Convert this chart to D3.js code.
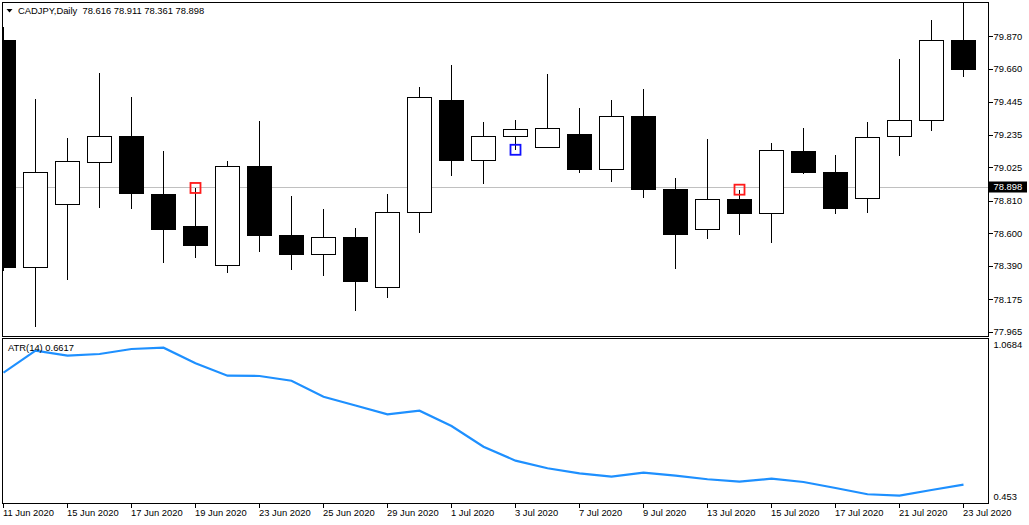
<!DOCTYPE html>
<html>
<head>
<meta charset="utf-8">
<script src="https://cdn.jsdelivr.net/npm/d3@7"></script>
<style>
  html, body { margin: 0; padding: 0; background: #fff; }
  svg { display: block; }
  text { font-family: "Liberation Sans", Arial, sans-serif; font-size: 9.4px; fill: #000; }
</style>
</head>
<body>
<svg id="chart" width="1029" height="525"></svg>
<script>
// ---- data ----
const dates = ["11 Jun 2020","12 Jun 2020","15 Jun 2020","16 Jun 2020","17 Jun 2020","18 Jun 2020","19 Jun 2020","22 Jun 2020","23 Jun 2020","24 Jun 2020","25 Jun 2020","26 Jun 2020","29 Jun 2020","30 Jun 2020","1 Jul 2020","2 Jul 2020","3 Jul 2020","6 Jul 2020","7 Jul 2020","8 Jul 2020","9 Jul 2020","10 Jul 2020","13 Jul 2020","14 Jul 2020","15 Jul 2020","16 Jul 2020","17 Jul 2020","20 Jul 2020","21 Jul 2020","22 Jul 2020","23 Jul 2020"];
const openP  = [79.844,78.383,78.788,79.058,79.225,78.855,78.643,78.396,79.035,78.585,78.467,78.576,78.255,78.737,79.459,79.071,79.225,79.155,79.238,79.013,79.356,78.887,78.628,78.821,78.731,79.129,78.994,78.827,79.225,79.328,79.842];
const highP  = [79.928,79.465,79.214,79.632,79.478,79.131,78.891,79.065,79.324,78.842,78.758,78.630,78.855,79.542,79.684,79.317,79.330,79.626,79.407,79.459,79.529,78.957,79.208,78.880,79.180,79.277,79.103,79.315,79.720,79.971,80.150];
const lowP   = [78.353,77.995,78.297,78.760,78.754,78.407,78.439,78.342,78.477,78.362,78.323,78.098,78.182,78.599,78.966,78.914,79.137,79.155,78.985,78.927,78.824,78.368,78.561,78.587,78.535,78.979,78.722,78.728,79.094,79.255,79.608];
const closeP = [78.379,78.994,79.065,79.225,78.857,78.625,78.522,79.033,78.587,78.464,78.576,78.291,78.737,79.476,79.069,79.225,79.270,79.277,79.011,79.354,78.882,78.593,78.821,78.728,79.135,78.991,78.760,79.219,79.328,79.842,79.660];
const atr14  = [0.9412,1.0242,1.0054,1.0118,1.0306,1.0356,0.9767,0.9299,0.9287,0.9110,0.8506,0.8174,0.7841,0.7977,0.7400,0.6617,0.6090,0.5803,0.5614,0.5486,0.5637,0.5524,0.5388,0.5297,0.5410,0.5286,0.5059,0.4822,0.4768,0.4984,0.5184];
const redHighMarks = ["19 Jun 2020","14 Jul 2020"];
const blueLowMarks = ["3 Jul 2020"];
const priceTicks = ["79.870","79.660","79.445","79.235","79.025","78.810","78.600","78.390","78.175","77.965"];
const atrLabels = ["1.0684","0.453"];
const bidPrice = 78.898;
const titleText = "CADJPY,Daily  78.616 78.911 78.361 78.898";
const atrTitle = "ATR(14) 0.6617";

// ---- layout ----
const svg = d3.select("#chart");
svg.append("rect").attr("width",1029).attr("height",525).attr("fill","#fff");

const mainTop = 2.5, mainBottom = 336.5, left = 2.5, right = 988.5;
const subTop = 338.5, subBottom = 503.5;

const x = d3.scaleLinear().domain([0, dates.length - 1]).range([3, 3 + 32 * (dates.length - 1)]);
const y = d3.scaleLinear().domain([77.965, 79.870]).range([331.7, 36]);
const ya = d3.scaleLinear().domain([0.453, 1.0684]).range([502, 339]);

const defs = svg.append("defs");
defs.append("clipPath").attr("id","clipMain").append("rect")
  .attr("x", 3).attr("y", 3).attr("width", right - 3).attr("height", mainBottom - 3);
defs.append("clipPath").attr("id","clipSub").append("rect")
  .attr("x", 3).attr("y", subTop + 0.5).attr("width", right - 3).attr("height", subBottom - subTop - 1);

// bid line
svg.append("line")
  .attr("x1", left).attr("x2", right)
  .attr("y1", Math.round(y(bidPrice)) + 0.5).attr("y2", Math.round(y(bidPrice)) + 0.5)
  .attr("stroke", "#c0c0c0").attr("stroke-width", 1);

const bars = dates.map((d, i) => ({date: d, i, o: openP[i], h: highP[i], l: lowP[i], c: closeP[i]}));

const gMain = svg.append("g").attr("clip-path","url(#clipMain)").attr("shape-rendering","crispEdges");

gMain.selectAll("line.wick").data(bars).join("line")
  .attr("class","wick")
  .attr("x1", d => Math.round(x(d.i)) + 0.5).attr("x2", d => Math.round(x(d.i)) + 0.5)
  .attr("y1", d => y(d.h)).attr("y2", d => y(d.l))
  .attr("stroke", "#000").attr("stroke-width", 1);

gMain.selectAll("rect.body").data(bars).join("rect")
  .attr("class","body")
  .attr("x", d => Math.round(x(d.i)) - 12 + 0.5)
  .attr("width", 24)
  .attr("y", d => Math.round(y(Math.max(d.o, d.c))) + 0.5)
  .attr("height", d => Math.max(1, Math.round(y(Math.min(d.o, d.c))) - Math.round(y(Math.max(d.o, d.c)))))
  .attr("fill", d => d.c >= d.o ? "#fff" : "#000")
  .attr("stroke", "#000").attr("stroke-width", 1);

// markers
const gMk = svg.append("g").attr("clip-path","url(#clipMain)");
gMk.selectAll("rect.red").data(bars.filter(b => redHighMarks.includes(b.date))).join("rect")
  .attr("x", d => Math.round(x(d.i)) - 4.5).attr("y", d => y(d.h) - 5)
  .attr("width", 10).attr("height", 10)
  .attr("fill","none").attr("stroke","#ff1a1a").attr("stroke-width",1.8);
gMk.selectAll("rect.blue").data(bars.filter(b => blueLowMarks.includes(b.date))).join("rect")
  .attr("x", d => Math.round(x(d.i)) - 4.5).attr("y", d => y(d.l) - 5)
  .attr("width", 10).attr("height", 10)
  .attr("fill","none").attr("stroke","#1010ff").attr("stroke-width",1.8);

// ATR line
svg.append("g").attr("clip-path","url(#clipSub)")
  .append("path")
  .datum(atr14)
  .attr("d", d3.line().x((d, i) => x(i) + 0.5).y(d => ya(d)))
  .attr("fill","none").attr("stroke","#1e90ff").attr("stroke-width",2.2);

// frames
svg.append("rect").attr("x", left).attr("y", mainTop).attr("width", right - left).attr("height", mainBottom - mainTop)
  .attr("fill","none").attr("stroke","#000").attr("shape-rendering","crispEdges");
svg.append("rect").attr("x", left).attr("y", subTop).attr("width", right - left).attr("height", subBottom - subTop)
  .attr("fill","none").attr("stroke","#000").attr("shape-rendering","crispEdges");

// price axis
const pAxis = svg.append("g").attr("transform", `translate(${right},0)`)
  .call(d3.axisRight(y).tickValues(priceTicks.map(Number)).tickSize(4).tickPadding(1)
        .tickFormat((d, i) => priceTicks[i]));
pAxis.select(".domain").remove();
pAxis.selectAll("line").attr("stroke","#000").attr("shape-rendering","crispEdges");
pAxis.selectAll("text").attr("fill","#000").style("font-size","9.4px").attr("font-family", null);

// bid price label
const by = Math.round(y(bidPrice));
svg.append("rect").attr("x", right - 0.5).attr("y", by - 5.5).attr("width", 39).attr("height", 11).attr("fill","#000");
svg.append("text").attr("x", right + 5).attr("y", by).attr("dy","0.35em").style("fill","#fff").text(bidPrice.toFixed(3));

// ATR labels
svg.append("text").attr("x", right + 5).attr("y", 345).attr("dy","0.35em").text(atrLabels[0]);
svg.append("text").attr("x", right + 5).attr("y", 497).attr("dy","0.35em").text(atrLabels[1]);

// date axis
const tickIdx = dates.map((d, i) => i).filter(i => i % 2 === 0);
const xAxis = svg.append("g").attr("transform", `translate(0,${subBottom})`)
  .call(d3.axisBottom(x).tickValues(tickIdx).tickSize(4).tickFormat(i => dates[i]));
xAxis.select(".domain").remove();
xAxis.selectAll(".tick").attr("transform", d => `translate(${Math.round(x(d)) + 0.5},0)`);
xAxis.selectAll("line").attr("stroke","#000").attr("shape-rendering","crispEdges");
xAxis.selectAll("text").attr("text-anchor","start").attr("x", -0.5).attr("y", 12.5).attr("dy", 0)
  .attr("fill","#000").style("font-size","9.4px").attr("font-family", null);

// titles
svg.append("path").attr("d","M6.5,9 L12.5,9 L9.5,12.5 Z").attr("fill","#000");
svg.append("text").attr("x", 18).attr("y", 14).text(titleText).attr("xml:space","preserve").style("white-space","pre");
svg.append("text").attr("x", 8).attr("y", 351).text(atrTitle);
</script>
</body>
</html>
